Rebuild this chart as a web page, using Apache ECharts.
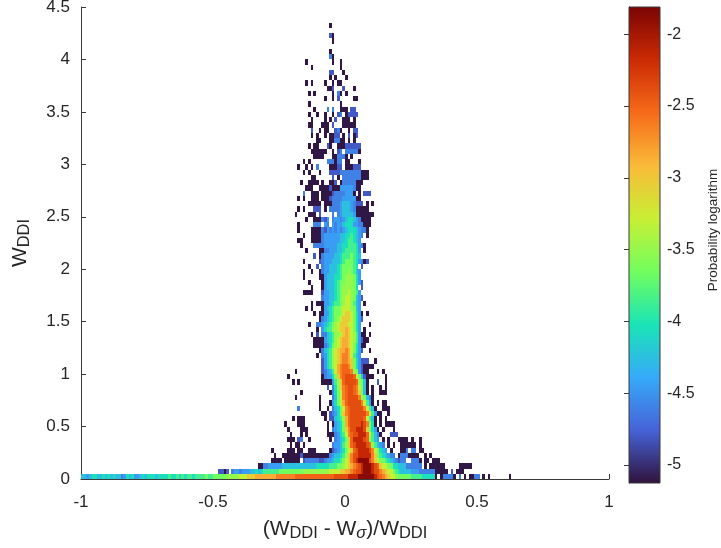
<!DOCTYPE html>
<html><head><meta charset="utf-8">
<style>html,body{margin:0;padding:0;background:#fff}#c{width:721px;height:548px}</style>
<script src="https://cdn.jsdelivr.net/npm/echarts@6/dist/echarts.min.js"></script>
</head><body><div id="c"></div>
<script>
// Probability logarithm, as a small set of colour levels
var levelLetters = "abcdefghijklmnopq";
var levelValues = [-5.1,-4.8,-4.6,-4.45,-4.25,-4.05,-3.85,-3.65,-3.5,-3.3,-3.05,-2.85,-2.65,-2.5,-2.38,-2.15,-1.88];
var colorTicks = [-5,-4.5,-4,-3.5,-3,-2.5,-2];
var colorRange = [-5.125,-1.81];
var turbo = ["#30123B","#4662D7","#36AAF9","#1AE4B6","#72FE5E","#C8EF34","#FABA39","#F66B19","#CB2A04","#7A0403"];
var binX = 0.01, binY = 0.05, tokenOrigin = 68;
// far-left parts of the lowest rows, one letter per cell
var leftRow0 = "eedeffeefefefeecdfefddefefffeffffgffgfgfggfgggghgghhhhhiiiiijjjkkkll";
var leftRow1 = "bbab.cddcdddeefe";
var leftRow2 = "a";
var leftStarts = [0,52,67];
// row 0 upward; tokens: "column+level", "first-last+level" or "first:letters", columns counted from tokenOrigin
var rowsLow = [
"0-5l 6-12m 13-27n 28-32o 33-36p 37-42q 43p 44o 45n 46m 47l 48k 49-50j 51i 52-56h 57-60g 61-65f 66a 68a 69-72c 73a 75c 77a 79-80a 81-82c 84a 86a 94a",
"0f 1-6g 7-15h 16-25i 26-29j 30-31k 32-33l 34m 35n 36-37o 38p 39-41q 42p 43-44o 45m 46l 47k 48-49j 50h 51g 52f 53-56e 57-59d 60-65c 66-67a 68-70a 72b 74-76a",
"0a 1-2c 3-7d 8-20e 21-25f 26-28g 29-30h 31i 32j 33k 34l 35m 36n 37o 38p 39-41q 42p 43o 44n 45k 46-47j 48-49h 50-51f 52-54e 55-60c 62a 64-69a 75-79a",
"4-7a 9-14a 16b 17-21c 22-23b 24c 25-26d 27e 28-29f 30g 31h 32j 33k 34m 35o 36p 37-40q 41o 42m 43k 44j 45-46h 47g 48f 49e 50d 51c 52b 53-54c 57-59c 60a 62-63a 65-67a",
"5a 8-14a 15b 16-25a 26c 27d 28-29e 30f 31g 32i 33k 34m 35-36o 37-41p 42m 43k 44h 45g 46f 47e 48d 49-50c 52a 53-55c 56-59a 62a 64a",
"4a 10-12a 14-15a 18-20a 26a 27b 28c 29d 30e 31f 32h 33j 34k 35n 36o 37-40p 41o 42m 43j 44h 45f 46e 47d 49a 53-54a 55c 57-58c 60-61a",
"11a 13-14a 16a 27c 28-29d 30e 31g 32i 33k 34n 35o 36-39p 40o 41n 42i 43g 44e 45d 46c 48a 50a 53-58a 60a",
"10-12a 14b 15c 18a 26a 28c 29d 30e 31f 32h 33k 34n 35-38p 39o 40n 41i 42g 43e 44d 46a 48a 52-55a 57a 60a",
"11a 15a 17a 25-27a 28:cdfgjmnoopppnjgec 45a 49-51b",
"10a 15-17a 25a 27c 28:defhkmoopppokhfd 44a 46a 50a",
"9a 14-16a 25a 27a 28:defhlnoooopomhfe 43a 45a 47-50a",
"12a 14-16a 24a 26-27b 28:efgilnooooonjgec 43a 45a 47a",
"23-24a 26b 27:cdfhkmnoooooomjgdb 44-45a 48a",
"14c 22a 25a 27:cefhjmnooooomjgeb 43a 46-48a",
"22a 26a 27:dfhjlnooooomjgdc 42a 44a 46-47a",
"13a 22a 27:cehjmnoooomihec 42a",
"15a 26a 27:cfhjmnoonmkhec 40a 42a 45-47a",
"25b 27:cfikmnoonmjhec 40a 42a 45a 47a",
"12a 14a 23:aaaadgiknooooniheb 40a 44b 47a",
"10a 23:acddfhkmnooonjheb 40-42a 47a",
"13a 23:bcdegjlmnnnmihdb 39-40a 44a 46a",
"23:bdfgijlmnnmkhfd 38b 39-42a",
"23:bdfgijklmmlkhfdb 39-40b 43a",
"21a 23:cdfgijklmmljged",
"22a 23:cefgijkllmljhfdb 41a",
"20-22a 23:acdfhijkllkjhfd 38-39a",
"20-22a 23:adefgijkllkjigdb 39-40a",
"19a 21b 23:ccefgiijklkjigd 38-39a 41a"
];
var rowsMid = [
"21a 23:dfggiijkklkjhfd 39a",
"18a 21-22c 23:defghijkkkjjhfd 41a",
"22a 23:cdefghijkkkjhfdb",
"20a 22a 23:addfghhijkkjhfd 38a 40a",
"17a 19a 23:adefghhijjjihed",
"19a 21-22a 23:addefgghijjiged 39a",
"23:cddeefghijjihedb",
"16-19a 23:bddeefghiijihgd",
"19a 23:adeeefghiiiihf.b",
"18a 23:adeeefghhiiihfdb",
"16a 22a 23:adeeeffghiiihfd",
"16a 19a 22a 23:cddeeefghhihged",
"18a 21b 23:cddeeefghhhhgf.b",
"16a 22b 23:cdddeeefghhhgfdc 39a 40b",
"20b 22a 23:cddddeefggghgfe",
"17a 22a 23:accdddeefggggfd 39a",
"15a 20-22c 23:cdddddeeffgggfdc 39a",
"14-15a 19-22a 23:cddddddeefggfed",
"16a 19-22a 23:cddddddeeffgfedc 40a",
"14a 19-22a 23:cbdcdcdcdefffedcc 40a",
"14a 20-22c 24:dc.dcddefffddcc 39-41a",
"17a 20-22a 23:cbd.cddcdeffedcaa 40-41a",
"13a 18-20a 22b 27c 29c 30:deeeed 36-42a",
"14a 16a 20-22b 24a 26-29c 30:deeedc 36-40a",
"18-22a 24-26a 27-29c 30:deeedc 36-38b 40a 42a",
"14a 16a 19-21a 23-25a 26b 27-30c 31-35d 36a 37a",
"16c 19-21a 23-26a 27b 28-31c 32-34d 35a 37a 39-41b",
"17-19a 22-25a 26b 27-29a 30-34d 35c 36-37a",
"15a 18-21a 23a 26-27a 28b 30a 31-35c 36-38a",
"19-20a 27b 29a 31-34c 35-37c 38-40a",
"16a 18a 22a 26-29b 30-34c 35-37c 38-40a",
"14a 17a 19a 21c 26-28a 29-30b 32-34a 35-37b"
];
var rowsHigh = [
"16a 18a 25-27c 28a 29-30c 32-33a 37a",
"20-23a 27-28a 29-31c 32a 34a",
"19-24a 27a 29b 30c 32c 33-36c 37a",
"18a 20-21a 25b 26a 29-31a 32-37b",
"21-22a 26-27a 28-29c 30-31a 33a 35a",
"19a 21a 24a 26-27a 28-29b 31a 33b 35a 36b",
"19b 22a 24-25a 28b 29c 30a 33a 35-36b",
"18-19a 23-25a 27b 31-34a 35a",
"19a 24a 26a 28b 31-33a 35a",
"18a 21a 24a 27a 29b 30c 32a 33-36b",
"20a 25c 27c 30-32a 34-35b",
"18a 30a",
"24a 27a 29b 35-36a",
"18a 20a 27a 29c 30a 32a",
"25-26a 27b 31b 35a",
"17a 19a 24a 27a 29-30a",
"26a 28a 32a",
"26-27b 31a",
"19a 30a",
"17a 27a 30a",
"26c 27a",
"26a",
"",
"27a",
"26b 27a",
"",
"26a"
];

function buildCells() {
  var seen = {};
  function put(col, row, letter) {
    var k = levelLetters.indexOf(letter);
    if (k >= 0) seen[col + "," + row] = [-1 + col * binX, row * binY, levelValues[k]];
  }
  [leftRow0, leftRow1, leftRow2].forEach(function (s, row) {
    s.split("").forEach(function (ch, i) { put(leftStarts[row] + i, row, ch); });
  });
  rowsLow.concat(rowsMid, rowsHigh).forEach(function (line, row) {
    line.split(" ").forEach(function (t) {
      var run = /^(\d+):(.+)$/.exec(t);
      if (run) {
        run[2].split("").forEach(function (ch, i) { put(tokenOrigin + (+run[1]) + i, row, ch); });
        return;
      }
      var m = /^(\d+)(?:-(\d+))?([a-q])$/.exec(t);
      if (!m) return;
      var a = +m[1], b = m[2] ? +m[2] : a;
      for (var p = a; p <= b; p++) put(tokenOrigin + p, row, m[3]);
    });
  });
  return Object.keys(seen).map(function (k) { return seen[k]; });
}

var FONT = '"Liberation Sans", Arial, sans-serif', INK = '#262626', AXIS = '#3a3a3a';
var chart = echarts.init(document.getElementById('c'), null, {renderer:'canvas'});
var stops = turbo.map(function (c, i) { return {offset: 1 - i / (turbo.length - 1), color: c}; });
var subRich = {
  n: {fontFamily: FONT, fontSize: 21, color: INK, lineHeight: 26},
  s: {fontFamily: FONT, fontSize: 16.5, color: INK, lineHeight: 26, verticalAlign: 'bottom', padding: [9,0,0,0]},
  g: {fontFamily: FONT, fontSize: 16.5, fontStyle: 'italic', color: INK, lineHeight: 26, verticalAlign: 'bottom', padding: [9,0,0,0]}
};
chart.setOption({
  animation: false,
  backgroundColor: '#fff',
  textStyle: {fontFamily: FONT},
  grid: [
    {left: 81, top: 7, width: 528, height: 472, outerBoundsMode: 'none'},
    {left: 629, top: 7, width: 31, height: 476, outerBoundsMode: 'none'}
  ],
  xAxis: [{
    type: 'value', min: -1, max: 1, interval: 0.5, gridIndex: 0,
    name: '{n|(W}{s|DDI}{n| - W}{g|σ}{n|)/W}{s|DDI}',
    nameLocation: 'middle', nameGap: 35, nameTextStyle: {rich: subRich},
    splitLine: {show: false},
    axisLine: {onZero: false, lineStyle: {color: AXIS, width: 1}},
    axisTick: {inside: true, length: 5, lineStyle: {color: AXIS}},
    axisLabel: {fontFamily: FONT, fontSize: 17, color: INK, margin: 15, showMinLabel: true, showMaxLabel: true,
      formatter: function (v) { return String(v); }}
  }, {
    type: 'value', min: 0, max: 1, gridIndex: 1, show: false
  }],
  yAxis: [{
    type: 'value', min: 0, max: 4.5, interval: 0.5, gridIndex: 0,
    name: '{n|W}{s|DDI}', nameLocation: 'middle', nameGap: 48, nameRotate: 90, nameTextStyle: {rich: subRich},
    splitLine: {show: false},
    axisLine: {onZero: false, lineStyle: {color: AXIS, width: 1}},
    axisTick: {inside: true, length: 5, lineStyle: {color: AXIS}},
    axisLabel: {fontFamily: FONT, fontSize: 17, color: INK, margin: 11, padding: [2,0,0,0], showMinLabel: true, showMaxLabel: true,
      formatter: function (v) { return String(v); }}
  }, {
    type: 'value', min: colorRange[0], max: colorRange[1], gridIndex: 1, position: 'right',
    name: 'Probability logarithm', nameLocation: 'middle', nameGap: 46, nameRotate: 90,
    nameTextStyle: {fontFamily: FONT, fontSize: 13.5, color: INK, padding: [0,0,0,30]},
    splitLine: {show: false},
    axisLine: {show: true, lineStyle: {color: AXIS, width: 1}},
    axisTick: {show: true, inside: true, length: 5, customValues: colorTicks, lineStyle: {color: AXIS}},
    axisLabel: {fontFamily: FONT, fontSize: 16, color: INK, margin: 7, padding: [2,0,0,0], customValues: colorTicks,
      formatter: function (v) { return String(v); }}
  }],
  visualMap: {
    show: false, type: 'continuous', seriesIndex: 0, dimension: 2,
    min: colorRange[0], max: colorRange[1], inRange: {color: turbo}
  },
  series: [{
    type: 'custom', coordinateSystem: 'cartesian2d', xAxisIndex: 0, yAxisIndex: 0,
    data: buildCells(), encode: {x: 0, y: 1}, clip: true, silent: true,
    renderItem: function (params, api) {
      var a = api.coord([api.value(0), api.value(1) + binY]);
      var b = api.coord([api.value(0) + binX, api.value(1)]);
      var x0 = Math.round(a[0]), x1 = Math.round(b[0]), y0 = Math.round(a[1]), y1 = Math.round(b[1]);
      return {type: 'rect', shape: {x: x0, y: y0, width: x1 - x0, height: y1 - y0},
        style: {fill: api.visual('color')}};
    }
  }, {
    type: 'custom', coordinateSystem: 'cartesian2d', xAxisIndex: 1, yAxisIndex: 1,
    data: [[0, colorRange[0]]], encode: {x: 0, y: 1}, silent: true, z: 1,
    renderItem: function (params, api) {
      var a = api.coord([0, colorRange[1]]), b = api.coord([1, colorRange[0]]);
      return {type: 'rect', shape: {x: a[0], y: a[1], width: b[0] - a[0], height: b[1] - a[1]},
        style: {fill: new echarts.graphic.LinearGradient(0, 0, 0, 1, stops.slice().reverse()), stroke: AXIS, lineWidth: 1}};
    }
  }]
});
</script></body></html>
